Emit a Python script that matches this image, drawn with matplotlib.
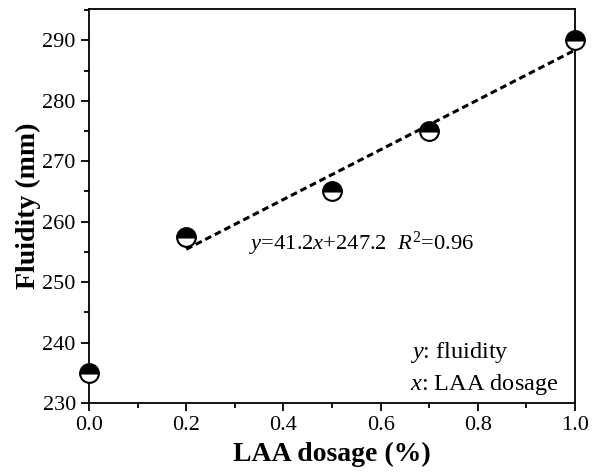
import numpy as np
import matplotlib
matplotlib.use("Agg")
import matplotlib.pyplot as plt
from matplotlib.ticker import MultipleLocator

plt.rcParams.update({"font.family": ["Liberation Serif", "DejaVu Serif"],
                     "mathtext.fontset": "custom",
                     "mathtext.rm": "Liberation Serif",
                     "mathtext.it": "Liberation Serif:italic",
                     "font.size": 16})

dosage = [0.0, 0.2, 0.5, 0.7, 1.0]
fluidity = [235.0, 257.5, 265.0, 275.0, 290.0]
slope, intercept = 41.2, 247.2
fit_x = [0.2, 1.0]

fig = plt.figure(figsize=(6.03, 4.74), dpi=100)
ax = fig.add_axes([89 / 603, 1 - 403 / 474, 486 / 603, 394 / 474])

fx = np.array(fit_x)
ax.plot(fx, slope * fx + intercept, ls=(0, (2.2, 1.3)), color="black", lw=2.2, zorder=2)
ax.plot(dosage, fluidity, "o", ms=13.5, fillstyle="top", markerfacecolor="black",
        markerfacecoloralt="white", markeredgecolor="black", mew=1.5,
        clip_on=False, zorder=3)

ax.text(0.33, 256.3, r"$y$=41.2$x$+247.2  $R^2$=0.96", fontsize=16.2, va="center")
ax.text(0.66, 238.3, r"$y$: fluidity", fontsize=17.5, ha="left", va="center")
ax.text(0.66, 233.1, r"$x$: LAA dosage", fontsize=17.5, ha="left", va="center")

ax.set_xlim(0, 1.0)
ax.set_ylim(230, 295.2)
ax.xaxis.set_major_locator(MultipleLocator(0.2))
ax.xaxis.set_minor_locator(MultipleLocator(0.1))
ax.yaxis.set_major_locator(MultipleLocator(10))
ax.yaxis.set_minor_locator(MultipleLocator(5))
ax.tick_params(which="both", direction="out", width=1.3)
ax.tick_params(which="major", length=5.5, pad=4)
ax.tick_params(which="minor", length=3.5)
for s in ax.spines.values():
    s.set_linewidth(1.3)
ax.set_xticklabels([f"{v:.1f}" for v in ax.get_xticks()])
ax.set_xlabel("LAA dosage (%)", fontsize=20, fontweight="bold", labelpad=5)
ax.set_ylabel("Fluidity (mm)", fontsize=20, fontweight="bold", labelpad=1)

fig.savefig("out.png", dpi=100)
